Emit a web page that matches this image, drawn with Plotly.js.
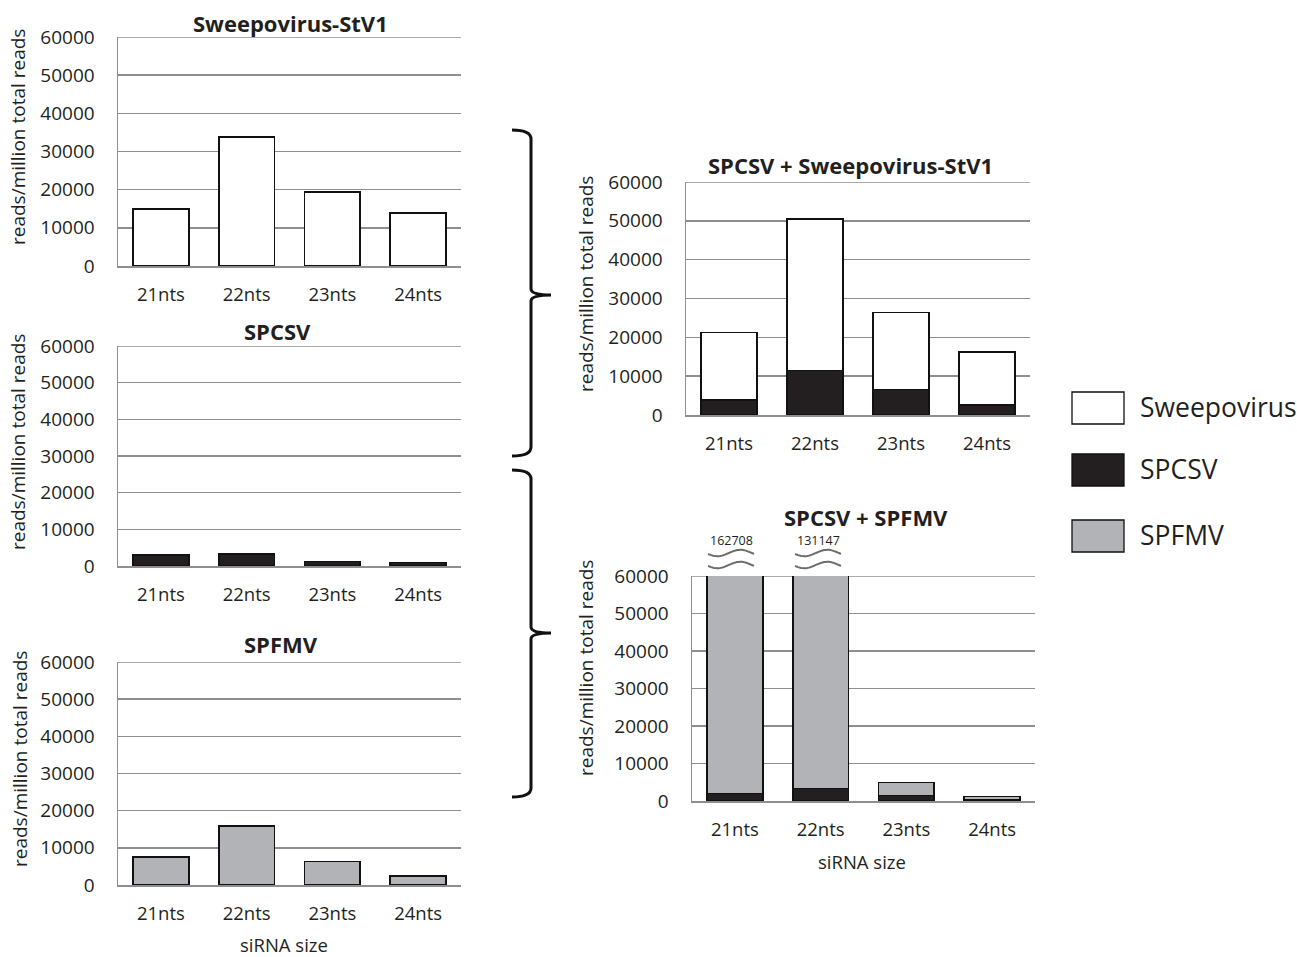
<!DOCTYPE html>
<html>
<head>
<meta charset="utf-8">
<script src="https://cdn.plot.ly/plotly-3.0.1.min.js"></script>
<style>html,body{margin:0;padding:0;background:#fff;}#chart{width:1297px;height:957px;}</style>
</head>
<body>
<div id="chart"></div>
<script>
// ---- data ----
const categories = ['21nts', '22nts', '23nts', '24nts'];
const sweepoSingle = [15000, 33800, 19400, 13900];
const spcsvSingle = [3000, 3200, 1200, 1000];
const spfmvSingle = [7550, 15800, 6300, 2500];
const coSweepo_SPCSV = [3900, 11500, 6600, 2600];
const coSweepo_Sweepo = [17300, 38900, 19800, 13700];
const coSPFMV_SPCSV = [2000, 3300, 1500, 300];
const coSPFMV_SPFMV = [160708, 127847, 3400, 900];
const brokenTotals = ['162708', '131147'];
const yTicks = [0, 10000, 20000, 30000, 40000, 50000, 60000];
const panelTitles = ['Sweepovirus-StV1', 'SPCSV', 'SPFMV', 'SPCSV + Sweepovirus-StV1', 'SPCSV + SPFMV'];
const legendNames = ['Sweepovirus', 'SPCSV', 'SPFMV'];
const yTitle = 'reads/million total reads';
const xTitle = 'siRNA size';

// ---- styles ----
const W = 1297, H = 957;
const FONT = '"Open Sans", "DejaVu Sans", sans-serif';
const TXT = '#231f20';
const GRID = '#8f8f8f';
const WHITE = '#ffffff', BLACK = '#231f20', GREY = '#b2b3b6';
const px = x => x / W;
const py = y => 1 - y / H;

// panel pixel boxes: [left, right, top(60000), bottom(0)]
const boxes = [
  [118, 461, 37, 266],
  [118, 461, 346, 566],
  [118, 461, 662, 885],
  [686, 1030, 182, 415],
  [692, 1035, 576, 801]
];

function bar(name, y, color, ax) {
  return {
    type: 'bar', name: name, x: categories, y: y,
    xaxis: 'x' + ax, yaxis: 'y' + ax,
    marker: {color: color, line: {color: '#111', width: 1.6}},
    showlegend: false, hoverinfo: 'x+y'
  };
}

const data = [
  bar(legendNames[0], sweepoSingle, WHITE, ''),
  bar(legendNames[1], spcsvSingle, BLACK, '2'),
  bar(legendNames[2], spfmvSingle, GREY, '3'),
  bar(legendNames[1], coSweepo_SPCSV, BLACK, '4'),
  bar(legendNames[0], coSweepo_Sweepo, WHITE, '4'),
  bar(legendNames[1], coSPFMV_SPCSV, BLACK, '5'),
  bar(legendNames[2], coSPFMV_SPFMV, GREY, '5')
];

const layout = {
  width: W, height: H,
  margin: {l: 0, r: 0, t: 0, b: 0},
  paper_bgcolor: '#fff', plot_bgcolor: '#fff',
  barmode: 'stack', bargap: 0.35,
  showlegend: false,
  font: {family: FONT, color: TXT, size: 18},
  annotations: [], shapes: []
};

boxes.forEach((b, i) => {
  const s = i === 0 ? '' : String(i + 1);
  layout['xaxis' + s] = {
    domain: [px(b[0]), px(b[1])], anchor: 'y' + s,
    type: 'category', showgrid: false, zeroline: false,
    showline: true, linecolor: GRID, linewidth: 1.5,
    ticks: '', ticklabelstandoff: 11,
    tickfont: {family: FONT, size: 18.5, color: TXT}, fixedrange: true
  };
  layout['yaxis' + s] = {
    domain: [py(b[3]), py(b[2])], anchor: 'x' + s,
    range: [0, 60000], tickmode: 'array', tickvals: yTicks, ticktext: yTicks.map(String),
    showgrid: true, gridcolor: GRID, gridwidth: 1.5, zeroline: false,
    showline: true, linecolor: GRID, linewidth: 1.5,
    ticks: '', ticklabelstandoff: 18,
    tickfont: {family: FONT, size: 19, color: TXT}, fixedrange: true
  };
  // top gridline at 60000 (plotly omits the edge gridline)
  layout.shapes.push({type: 'line', xref: 'x' + s + ' domain', yref: 'y' + s,
    x0: 0, x1: 1, y0: yTicks[yTicks.length - 1], y1: yTicks[yTicks.length - 1],
    line: {color: GRID, width: 1.5}, layer: 'below'});
});

// panel titles
const titlePos = [[290, 23], [277, 331], [281, 644], [850, 165], [866, 517]];
panelTitles.forEach((t, i) => {
  layout.annotations.push({
    text: '<b>' + t + '</b>', xref: 'paper', yref: 'paper',
    x: px(titlePos[i][0]), y: py(titlePos[i][1]), xanchor: 'center', yanchor: 'middle',
    showarrow: false, font: {family: FONT, size: 22, color: TXT}
  });
});

// y titles
const yTitlePos = [[18, 137], [18, 442], [20, 759], [586, 284], [586, 668]];
yTitlePos.forEach(p => {
  layout.annotations.push({
    text: yTitle, xref: 'paper', yref: 'paper', textangle: -90,
    x: px(p[0]), y: py(p[1]), xanchor: 'center', yanchor: 'middle',
    showarrow: false, font: {family: FONT, size: 19, color: TXT}
  });
});

// x titles
[[284, 944], [862, 861]].forEach(p => {
  layout.annotations.push({
    text: xTitle, xref: 'paper', yref: 'paper',
    x: px(p[0]), y: py(p[1]), xanchor: 'center', yanchor: 'middle',
    showarrow: false, font: {family: FONT, size: 18.5, color: TXT}
  });
});

// broken-bar totals and wave marks
const breakX = [[708, 754], [795, 841]];
brokenTotals.forEach((t, i) => {
  const cx = (breakX[i][0] + breakX[i][1]) / 2;
  layout.annotations.push({
    text: t, xref: 'paper', yref: 'paper', x: px(cx), y: py(540),
    xanchor: 'center', yanchor: 'middle', showarrow: false,
    font: {family: FONT, size: 12.5, color: TXT}
  });
  [553, 565].forEach(yy => {
    const x0 = breakX[i][0], x1 = breakX[i][1], A = 3.2;
    let d = '';
    for (let k = 0; k <= 30; k++) {
      const tt = k / 30;
      const xx = x0 + (x1 - x0) * tt;
      const yv = yy + A * Math.sin(2 * Math.PI * tt + 0.3);
      d += (k === 0 ? 'M ' : ' L ') + px(xx).toFixed(5) + ',' + py(yv).toFixed(5);
    }
    layout.shapes.push({type: 'path', xref: 'paper', yref: 'paper', path: d,
      line: {color: '#6d6d6d', width: 2}});
  });
});

// braces
function brace(xv, xl, xt, yt, ym, yb) {
  const P = (x, y) => px(x).toFixed(5) + ',' + py(y).toFixed(5);
  return 'M ' + P(xl, yt) + ' Q ' + P(xv, yt) + ' ' + P(xv, yt + 9) +
    ' L ' + P(xv, ym - 6) + ' Q ' + P(xv, ym) + ' ' + P(xt, ym) +
    ' Q ' + P(xv, ym) + ' ' + P(xv, ym + 6) +
    ' L ' + P(xv, yb - 9) + ' Q ' + P(xv, yb) + ' ' + P(xl, yb);
}
[[130, 295, 456], [470, 633, 797]].forEach(b => {
  layout.shapes.push({type: 'path', xref: 'paper', yref: 'paper',
    path: brace(531, 512, 551, b[0], b[1], b[2]), line: {color: '#111', width: 3}});
});

// legend
const legColors = [WHITE, BLACK, GREY];
const legY = [[392, 424], [454, 486], [520, 552]];
legendNames.forEach((n, i) => {
  layout.shapes.push({type: 'rect', xref: 'paper', yref: 'paper',
    x0: px(1072), x1: px(1124), y0: py(legY[i][1]), y1: py(legY[i][0]),
    fillcolor: legColors[i], line: {color: '#111', width: 1.3}});
  layout.annotations.push({
    text: n, xref: 'paper', yref: 'paper', x: px(1138), y: py((legY[i][0] + legY[i][1]) / 2 - 1),
    xanchor: 'left', yanchor: 'middle', showarrow: false,
    font: {family: FONT, size: 26.5, color: TXT}
  });
});

Plotly.newPlot('chart', data, layout, {displayModeBar: false, staticPlot: true});
</script>
</body>
</html>
